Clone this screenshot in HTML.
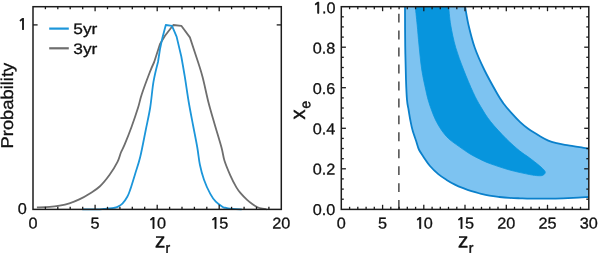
<!DOCTYPE html>
<html><head><meta charset="utf-8"><title>z_r probability and x_e contours</title>
<style>
html,body{margin:0;padding:0;background:#fff;}
body{width:600px;height:253px;overflow:hidden;}
svg{display:block;}
text{font-family:"Liberation Sans", Arial, Helvetica, sans-serif;fill:#111;}
</style></head><body>
<svg xmlns="http://www.w3.org/2000/svg" width="600" height="253" viewBox="0 0 600 253">
<rect x="0" y="0" width="600" height="253" fill="#ffffff"/>
<path fill="none" stroke="#6e6e6e" stroke-width="1.8" stroke-linejoin="round" stroke-linecap="butt" d="M36.90 207.40 C39.03 207.32 45.92 207.20 49.70 206.90 C53.48 206.60 56.32 206.20 59.60 205.60 C62.88 205.00 66.12 204.33 69.40 203.30 C72.68 202.27 75.88 201.05 79.30 199.40 C82.72 197.75 86.50 195.55 89.90 193.40 C93.30 191.25 96.42 189.62 99.70 186.50 C102.98 183.38 106.63 178.82 109.60 174.70 C112.57 170.58 115.62 165.50 117.50 161.80 C119.38 158.10 119.70 155.40 120.90 152.50 C122.10 149.60 122.92 148.70 124.70 144.40 C126.48 140.10 129.37 132.85 131.60 126.70 C133.83 120.55 136.42 112.87 138.10 107.50 C139.78 102.13 139.78 100.28 141.70 94.50 C143.62 88.72 147.52 78.22 149.60 72.80 C151.68 67.38 154.20 62.00 154.20 62.00 C154.20 62.00 160.00 44.00 160.00 44.00 C160.00 44.00 165.00 35.80 165.00 35.80 C165.00 35.80 173.30 25.00 173.30 25.00 C173.30 25.00 181.30 25.80 181.30 25.80 C181.30 25.80 189.90 37.40 189.90 37.40 C189.90 37.40 196.20 56.50 196.20 56.50 C196.20 56.50 200.45 69.03 202.50 76.70 C204.55 84.37 206.50 94.67 208.50 102.50 C210.50 110.33 212.33 116.20 214.50 123.70 C216.67 131.20 219.83 141.32 221.50 147.50 C223.17 153.68 223.02 156.12 224.50 160.80 C225.98 165.48 228.42 171.17 230.40 175.60 C232.38 180.03 234.67 184.43 236.40 187.40 C238.13 190.37 239.02 191.32 240.80 193.40 C242.58 195.48 245.13 198.08 247.10 199.90 C249.07 201.72 250.87 203.08 252.60 204.30 C254.33 205.52 255.85 206.47 257.50 207.20 C259.15 207.93 261.00 208.35 262.50 208.70 C264.00 209.05 265.83 209.20 266.50 209.30"/>
<path fill="none" stroke="#1c96da" stroke-width="1.8" stroke-linejoin="round" stroke-linecap="butt" d="M82.30 209.30 C84.75 209.30 93.38 209.37 97.00 209.30 C100.62 209.23 101.90 209.03 104.00 208.90 C106.10 208.77 107.93 208.67 109.60 208.50 C111.27 208.33 112.68 208.17 114.00 207.90 C115.32 207.63 116.10 207.60 117.50 206.90 C118.90 206.20 120.77 205.38 122.40 203.70 C124.03 202.02 125.98 199.18 127.30 196.80 C128.62 194.42 128.98 193.25 130.30 189.40 C131.62 185.55 133.55 179.10 135.20 173.70 C136.85 168.30 138.43 164.33 140.20 157.00 C141.97 149.67 144.13 137.95 145.80 129.70 C147.47 121.45 148.92 115.50 150.20 107.50 C151.48 99.50 152.20 89.28 153.50 81.70 C154.80 74.12 158.00 62.00 158.00 62.00 C158.00 62.00 160.00 49.00 160.00 49.00 C160.00 49.00 162.50 37.40 162.50 37.40 C162.50 37.40 165.80 25.00 165.80 25.00 C165.80 25.00 172.00 25.80 172.00 25.80 C172.00 25.80 176.60 36.60 176.60 36.60 C176.60 36.60 181.30 56.50 181.30 56.50 C181.30 56.50 183.55 69.03 184.80 76.70 C186.05 84.37 187.43 94.45 188.80 102.50 C190.17 110.55 191.58 117.50 193.00 125.00 C194.42 132.50 196.15 140.88 197.30 147.50 C198.45 154.12 198.78 159.33 199.90 164.70 C201.02 170.07 202.27 174.83 204.00 179.70 C205.73 184.57 208.33 190.23 210.30 193.90 C212.27 197.57 213.73 199.53 215.80 201.70 C217.87 203.87 221.00 205.87 222.70 206.90 C224.40 207.93 224.80 207.62 226.00 207.90 C227.20 208.18 228.23 208.40 229.90 208.60 C231.57 208.80 234.03 208.98 236.00 209.10 C237.97 209.22 240.75 209.27 241.70 209.30"/>
<path d="M405.00 6.70 C405.00 6.70 405.03 32.78 405.20 45.00 C405.37 57.22 405.70 70.83 406.00 80.00 C406.30 89.17 406.57 95.00 407.00 100.00 C407.43 105.00 408.05 106.67 408.60 110.00 C409.15 113.33 409.65 116.67 410.30 120.00 C410.95 123.33 411.50 126.42 412.50 130.00 C413.50 133.58 415.23 138.25 416.30 141.50 C417.37 144.75 417.72 146.97 418.90 149.50 C420.08 152.03 421.55 153.95 423.40 156.70 C425.25 159.45 427.52 163.10 430.00 166.00 C432.48 168.90 435.53 171.78 438.30 174.10 C441.07 176.42 443.83 178.15 446.60 179.90 C449.37 181.65 452.13 183.22 454.90 184.60 C457.67 185.98 460.43 187.10 463.20 188.20 C465.97 189.30 468.73 190.32 471.50 191.20 C474.27 192.08 476.80 192.75 479.80 193.50 C482.80 194.25 486.23 195.12 489.50 195.70 C492.77 196.28 496.10 196.63 499.40 197.00 C502.70 197.37 505.87 197.68 509.30 197.90 C512.73 198.12 515.25 198.17 520.00 198.30 C524.75 198.43 531.87 198.65 537.80 198.70 C543.73 198.75 549.68 198.73 555.60 198.60 C561.52 198.47 567.78 198.17 573.30 197.90 C578.82 197.63 588.70 197.00 588.70 197.00 C588.70 197.00 588.70 148.60 588.70 148.60 C588.70 148.60 584.08 147.82 581.50 147.40 C578.92 146.98 575.97 146.52 573.20 146.10 C570.43 145.68 567.67 145.38 564.90 144.90 C562.13 144.42 559.37 143.92 556.60 143.20 C553.83 142.48 551.07 141.77 548.30 140.60 C545.53 139.43 541.97 137.30 540.00 136.20 C538.03 135.10 538.47 135.23 536.50 134.00 C534.53 132.77 530.97 130.82 528.20 128.80 C525.43 126.78 522.67 124.50 519.90 121.90 C517.13 119.30 514.37 116.32 511.60 113.20 C508.83 110.08 505.67 106.40 503.30 103.20 C500.93 100.00 500.55 99.53 497.40 94.00 C494.25 88.47 488.18 77.75 484.40 70.00 C480.62 62.25 477.35 55.00 474.70 47.50 C472.05 40.00 470.10 31.80 468.50 25.00 C466.90 18.20 465.10 6.70 465.10 6.70 Z" fill="#7dc3f1" stroke="none"/>
<path d="M405.00 6.70 C405.03 13.08 405.03 32.78 405.20 45.00 C405.37 57.22 405.70 70.83 406.00 80.00 C406.30 89.17 406.57 95.00 407.00 100.00 C407.43 105.00 408.05 106.67 408.60 110.00 C409.15 113.33 409.65 116.67 410.30 120.00 C410.95 123.33 411.50 126.42 412.50 130.00 C413.50 133.58 415.23 138.25 416.30 141.50 C417.37 144.75 417.72 146.97 418.90 149.50 C420.08 152.03 421.55 153.95 423.40 156.70 C425.25 159.45 427.52 163.10 430.00 166.00 C432.48 168.90 435.53 171.78 438.30 174.10 C441.07 176.42 443.83 178.15 446.60 179.90 C449.37 181.65 452.13 183.22 454.90 184.60 C457.67 185.98 460.43 187.10 463.20 188.20 C465.97 189.30 468.73 190.32 471.50 191.20 C474.27 192.08 476.80 192.75 479.80 193.50 C482.80 194.25 486.23 195.12 489.50 195.70 C492.77 196.28 496.10 196.63 499.40 197.00 C502.70 197.37 505.87 197.68 509.30 197.90 C512.73 198.12 515.25 198.17 520.00 198.30 C524.75 198.43 531.87 198.65 537.80 198.70 C543.73 198.75 549.68 198.73 555.60 198.60 C561.52 198.47 567.78 198.17 573.30 197.90 C578.82 197.63 586.13 197.15 588.70 197.00" fill="none" stroke="#0a80cb" stroke-width="1.8" stroke-linecap="butt"/>
<path d="M588.70 148.60 C587.50 148.40 584.08 147.82 581.50 147.40 C578.92 146.98 575.97 146.52 573.20 146.10 C570.43 145.68 567.67 145.38 564.90 144.90 C562.13 144.42 559.37 143.92 556.60 143.20 C553.83 142.48 551.07 141.77 548.30 140.60 C545.53 139.43 541.97 137.30 540.00 136.20 C538.03 135.10 538.47 135.23 536.50 134.00 C534.53 132.77 530.97 130.82 528.20 128.80 C525.43 126.78 522.67 124.50 519.90 121.90 C517.13 119.30 514.37 116.32 511.60 113.20 C508.83 110.08 505.67 106.40 503.30 103.20 C500.93 100.00 500.55 99.53 497.40 94.00 C494.25 88.47 488.18 77.75 484.40 70.00 C480.62 62.25 477.35 55.00 474.70 47.50 C472.05 40.00 470.10 31.80 468.50 25.00 C466.90 18.20 465.67 9.75 465.10 6.70" fill="none" stroke="#0a80cb" stroke-width="1.8" stroke-linecap="butt"/>
<path d="M415.30 6.70 C415.30 6.70 416.58 18.62 417.20 25.00 C417.82 31.38 418.23 37.50 419.00 45.00 C419.77 52.50 420.67 62.50 421.80 70.00 C422.93 77.50 424.73 85.00 425.80 90.00 C426.87 95.00 427.25 96.67 428.20 100.00 C429.15 103.33 430.27 106.67 431.50 110.00 C432.73 113.33 433.95 116.67 435.60 120.00 C437.25 123.33 439.20 126.87 441.40 130.00 C443.60 133.13 445.78 136.00 448.80 138.80 C451.82 141.60 456.03 144.32 459.50 146.80 C462.97 149.28 466.28 151.68 469.60 153.70 C472.92 155.72 476.00 157.25 479.40 158.90 C482.80 160.55 484.95 161.75 490.00 163.60 C495.05 165.45 503.13 168.18 509.70 170.00 C516.27 171.82 524.68 173.55 529.40 174.50 C534.12 175.45 535.82 175.55 538.00 175.70 C540.18 175.85 541.33 175.80 542.50 175.40 C543.67 175.00 544.65 174.08 545.00 173.30 C545.35 172.52 545.55 171.98 544.60 170.70 C543.65 169.42 541.83 167.75 539.30 165.60 C536.77 163.45 532.68 160.27 529.40 157.80 C526.12 155.33 523.50 154.02 519.60 150.80 C515.70 147.58 510.83 143.37 506.00 138.50 C501.17 133.63 494.80 126.88 490.60 121.60 C486.40 116.32 483.70 111.65 480.80 106.80 C477.90 101.95 476.05 98.63 473.20 92.50 C470.35 86.37 466.62 77.50 463.70 70.00 C460.78 62.50 457.87 55.00 455.70 47.50 C453.53 40.00 451.87 31.80 450.70 25.00 C449.53 18.20 448.70 6.70 448.70 6.70 Z" fill="#0795dd" stroke="#0795dd" stroke-width="0.8" stroke-linejoin="round"/>
<line x1="398.9" y1="13.7" x2="398.9" y2="22.6" stroke="#1c1c1c" stroke-width="1.2"/>
<line x1="398.9" y1="30.6" x2="398.9" y2="39.5" stroke="#1c1c1c" stroke-width="1.2"/>
<line x1="398.9" y1="47.6" x2="398.9" y2="56.5" stroke="#1c1c1c" stroke-width="1.2"/>
<line x1="398.9" y1="64.5" x2="398.9" y2="73.5" stroke="#1c1c1c" stroke-width="1.2"/>
<line x1="398.9" y1="81.5" x2="398.9" y2="90.4" stroke="#1c1c1c" stroke-width="1.2"/>
<line x1="398.9" y1="98.5" x2="398.9" y2="107.4" stroke="#1c1c1c" stroke-width="1.2"/>
<line x1="398.9" y1="115.4" x2="398.9" y2="124.3" stroke="#1c1c1c" stroke-width="1.2"/>
<line x1="398.9" y1="132.3" x2="398.9" y2="141.2" stroke="#1c1c1c" stroke-width="1.2"/>
<line x1="398.9" y1="149.3" x2="398.9" y2="158.2" stroke="#1c1c1c" stroke-width="1.2"/>
<line x1="398.9" y1="166.2" x2="398.9" y2="175.1" stroke="#1c1c1c" stroke-width="1.2"/>
<line x1="398.9" y1="183.2" x2="398.9" y2="192.1" stroke="#1c1c1c" stroke-width="1.2"/>
<line x1="398.9" y1="200.1" x2="398.9" y2="209.0" stroke="#1c1c1c" stroke-width="1.2"/>
<line x1="45.4" y1="209.3" x2="45.4" y2="206.8" stroke="#1c1c1c" stroke-width="1.3"/>
<line x1="45.4" y1="6.7" x2="45.4" y2="9.2" stroke="#1c1c1c" stroke-width="1.3"/>
<line x1="57.8" y1="209.3" x2="57.8" y2="206.8" stroke="#1c1c1c" stroke-width="1.3"/>
<line x1="57.8" y1="6.7" x2="57.8" y2="9.2" stroke="#1c1c1c" stroke-width="1.3"/>
<line x1="70.2" y1="209.3" x2="70.2" y2="206.8" stroke="#1c1c1c" stroke-width="1.3"/>
<line x1="70.2" y1="6.7" x2="70.2" y2="9.2" stroke="#1c1c1c" stroke-width="1.3"/>
<line x1="82.7" y1="209.3" x2="82.7" y2="206.8" stroke="#1c1c1c" stroke-width="1.3"/>
<line x1="82.7" y1="6.7" x2="82.7" y2="9.2" stroke="#1c1c1c" stroke-width="1.3"/>
<line x1="95.1" y1="209.3" x2="95.1" y2="204.8" stroke="#1c1c1c" stroke-width="1.3"/>
<line x1="95.1" y1="6.7" x2="95.1" y2="11.2" stroke="#1c1c1c" stroke-width="1.3"/>
<line x1="107.5" y1="209.3" x2="107.5" y2="206.8" stroke="#1c1c1c" stroke-width="1.3"/>
<line x1="107.5" y1="6.7" x2="107.5" y2="9.2" stroke="#1c1c1c" stroke-width="1.3"/>
<line x1="119.9" y1="209.3" x2="119.9" y2="206.8" stroke="#1c1c1c" stroke-width="1.3"/>
<line x1="119.9" y1="6.7" x2="119.9" y2="9.2" stroke="#1c1c1c" stroke-width="1.3"/>
<line x1="132.3" y1="209.3" x2="132.3" y2="206.8" stroke="#1c1c1c" stroke-width="1.3"/>
<line x1="132.3" y1="6.7" x2="132.3" y2="9.2" stroke="#1c1c1c" stroke-width="1.3"/>
<line x1="144.7" y1="209.3" x2="144.7" y2="206.8" stroke="#1c1c1c" stroke-width="1.3"/>
<line x1="144.7" y1="6.7" x2="144.7" y2="9.2" stroke="#1c1c1c" stroke-width="1.3"/>
<line x1="157.2" y1="209.3" x2="157.2" y2="204.8" stroke="#1c1c1c" stroke-width="1.3"/>
<line x1="157.2" y1="6.7" x2="157.2" y2="11.2" stroke="#1c1c1c" stroke-width="1.3"/>
<line x1="169.6" y1="209.3" x2="169.6" y2="206.8" stroke="#1c1c1c" stroke-width="1.3"/>
<line x1="169.6" y1="6.7" x2="169.6" y2="9.2" stroke="#1c1c1c" stroke-width="1.3"/>
<line x1="182.0" y1="209.3" x2="182.0" y2="206.8" stroke="#1c1c1c" stroke-width="1.3"/>
<line x1="182.0" y1="6.7" x2="182.0" y2="9.2" stroke="#1c1c1c" stroke-width="1.3"/>
<line x1="194.4" y1="209.3" x2="194.4" y2="206.8" stroke="#1c1c1c" stroke-width="1.3"/>
<line x1="194.4" y1="6.7" x2="194.4" y2="9.2" stroke="#1c1c1c" stroke-width="1.3"/>
<line x1="206.8" y1="209.3" x2="206.8" y2="206.8" stroke="#1c1c1c" stroke-width="1.3"/>
<line x1="206.8" y1="6.7" x2="206.8" y2="9.2" stroke="#1c1c1c" stroke-width="1.3"/>
<line x1="219.2" y1="209.3" x2="219.2" y2="204.8" stroke="#1c1c1c" stroke-width="1.3"/>
<line x1="219.2" y1="6.7" x2="219.2" y2="11.2" stroke="#1c1c1c" stroke-width="1.3"/>
<line x1="231.6" y1="209.3" x2="231.6" y2="206.8" stroke="#1c1c1c" stroke-width="1.3"/>
<line x1="231.6" y1="6.7" x2="231.6" y2="9.2" stroke="#1c1c1c" stroke-width="1.3"/>
<line x1="244.1" y1="209.3" x2="244.1" y2="206.8" stroke="#1c1c1c" stroke-width="1.3"/>
<line x1="244.1" y1="6.7" x2="244.1" y2="9.2" stroke="#1c1c1c" stroke-width="1.3"/>
<line x1="256.5" y1="209.3" x2="256.5" y2="206.8" stroke="#1c1c1c" stroke-width="1.3"/>
<line x1="256.5" y1="6.7" x2="256.5" y2="9.2" stroke="#1c1c1c" stroke-width="1.3"/>
<line x1="268.9" y1="209.3" x2="268.9" y2="206.8" stroke="#1c1c1c" stroke-width="1.3"/>
<line x1="268.9" y1="6.7" x2="268.9" y2="9.2" stroke="#1c1c1c" stroke-width="1.3"/>
<line x1="33.0" y1="24.9" x2="37.6" y2="24.9" stroke="#1c1c1c" stroke-width="1.3"/>
<line x1="281.3" y1="24.9" x2="276.7" y2="24.9" stroke="#1c1c1c" stroke-width="1.3"/>
<line x1="349.6" y1="209.3" x2="349.6" y2="206.8" stroke="#1c1c1c" stroke-width="1.3"/>
<line x1="349.6" y1="6.7" x2="349.6" y2="9.2" stroke="#1c1c1c" stroke-width="1.3"/>
<line x1="357.8" y1="209.3" x2="357.8" y2="206.8" stroke="#1c1c1c" stroke-width="1.3"/>
<line x1="357.8" y1="6.7" x2="357.8" y2="9.2" stroke="#1c1c1c" stroke-width="1.3"/>
<line x1="366.1" y1="209.3" x2="366.1" y2="206.8" stroke="#1c1c1c" stroke-width="1.3"/>
<line x1="366.1" y1="6.7" x2="366.1" y2="9.2" stroke="#1c1c1c" stroke-width="1.3"/>
<line x1="374.3" y1="209.3" x2="374.3" y2="206.8" stroke="#1c1c1c" stroke-width="1.3"/>
<line x1="374.3" y1="6.7" x2="374.3" y2="9.2" stroke="#1c1c1c" stroke-width="1.3"/>
<line x1="382.6" y1="209.3" x2="382.6" y2="204.8" stroke="#1c1c1c" stroke-width="1.3"/>
<line x1="382.6" y1="6.7" x2="382.6" y2="11.2" stroke="#1c1c1c" stroke-width="1.3"/>
<line x1="390.8" y1="209.3" x2="390.8" y2="206.8" stroke="#1c1c1c" stroke-width="1.3"/>
<line x1="390.8" y1="6.7" x2="390.8" y2="9.2" stroke="#1c1c1c" stroke-width="1.3"/>
<line x1="399.1" y1="209.3" x2="399.1" y2="206.8" stroke="#1c1c1c" stroke-width="1.3"/>
<line x1="399.1" y1="6.7" x2="399.1" y2="9.2" stroke="#1c1c1c" stroke-width="1.3"/>
<line x1="407.3" y1="209.3" x2="407.3" y2="206.8" stroke="#1c1c1c" stroke-width="1.3"/>
<line x1="407.3" y1="6.7" x2="407.3" y2="9.2" stroke="#1c1c1c" stroke-width="1.3"/>
<line x1="415.6" y1="209.3" x2="415.6" y2="206.8" stroke="#1c1c1c" stroke-width="1.3"/>
<line x1="415.6" y1="6.7" x2="415.6" y2="9.2" stroke="#1c1c1c" stroke-width="1.3"/>
<line x1="423.8" y1="209.3" x2="423.8" y2="204.8" stroke="#1c1c1c" stroke-width="1.3"/>
<line x1="423.8" y1="6.7" x2="423.8" y2="11.2" stroke="#1c1c1c" stroke-width="1.3"/>
<line x1="432.1" y1="209.3" x2="432.1" y2="206.8" stroke="#1c1c1c" stroke-width="1.3"/>
<line x1="432.1" y1="6.7" x2="432.1" y2="9.2" stroke="#1c1c1c" stroke-width="1.3"/>
<line x1="440.3" y1="209.3" x2="440.3" y2="206.8" stroke="#1c1c1c" stroke-width="1.3"/>
<line x1="440.3" y1="6.7" x2="440.3" y2="9.2" stroke="#1c1c1c" stroke-width="1.3"/>
<line x1="448.5" y1="209.3" x2="448.5" y2="206.8" stroke="#1c1c1c" stroke-width="1.3"/>
<line x1="448.5" y1="6.7" x2="448.5" y2="9.2" stroke="#1c1c1c" stroke-width="1.3"/>
<line x1="456.8" y1="209.3" x2="456.8" y2="206.8" stroke="#1c1c1c" stroke-width="1.3"/>
<line x1="456.8" y1="6.7" x2="456.8" y2="9.2" stroke="#1c1c1c" stroke-width="1.3"/>
<line x1="465.0" y1="209.3" x2="465.0" y2="204.8" stroke="#1c1c1c" stroke-width="1.3"/>
<line x1="465.0" y1="6.7" x2="465.0" y2="11.2" stroke="#1c1c1c" stroke-width="1.3"/>
<line x1="473.3" y1="209.3" x2="473.3" y2="206.8" stroke="#1c1c1c" stroke-width="1.3"/>
<line x1="473.3" y1="6.7" x2="473.3" y2="9.2" stroke="#1c1c1c" stroke-width="1.3"/>
<line x1="481.5" y1="209.3" x2="481.5" y2="206.8" stroke="#1c1c1c" stroke-width="1.3"/>
<line x1="481.5" y1="6.7" x2="481.5" y2="9.2" stroke="#1c1c1c" stroke-width="1.3"/>
<line x1="489.8" y1="209.3" x2="489.8" y2="206.8" stroke="#1c1c1c" stroke-width="1.3"/>
<line x1="489.8" y1="6.7" x2="489.8" y2="9.2" stroke="#1c1c1c" stroke-width="1.3"/>
<line x1="498.0" y1="209.3" x2="498.0" y2="206.8" stroke="#1c1c1c" stroke-width="1.3"/>
<line x1="498.0" y1="6.7" x2="498.0" y2="9.2" stroke="#1c1c1c" stroke-width="1.3"/>
<line x1="506.3" y1="209.3" x2="506.3" y2="204.8" stroke="#1c1c1c" stroke-width="1.3"/>
<line x1="506.3" y1="6.7" x2="506.3" y2="11.2" stroke="#1c1c1c" stroke-width="1.3"/>
<line x1="514.5" y1="209.3" x2="514.5" y2="206.8" stroke="#1c1c1c" stroke-width="1.3"/>
<line x1="514.5" y1="6.7" x2="514.5" y2="9.2" stroke="#1c1c1c" stroke-width="1.3"/>
<line x1="522.8" y1="209.3" x2="522.8" y2="206.8" stroke="#1c1c1c" stroke-width="1.3"/>
<line x1="522.8" y1="6.7" x2="522.8" y2="9.2" stroke="#1c1c1c" stroke-width="1.3"/>
<line x1="531.0" y1="209.3" x2="531.0" y2="206.8" stroke="#1c1c1c" stroke-width="1.3"/>
<line x1="531.0" y1="6.7" x2="531.0" y2="9.2" stroke="#1c1c1c" stroke-width="1.3"/>
<line x1="539.3" y1="209.3" x2="539.3" y2="206.8" stroke="#1c1c1c" stroke-width="1.3"/>
<line x1="539.3" y1="6.7" x2="539.3" y2="9.2" stroke="#1c1c1c" stroke-width="1.3"/>
<line x1="547.5" y1="209.3" x2="547.5" y2="204.8" stroke="#1c1c1c" stroke-width="1.3"/>
<line x1="547.5" y1="6.7" x2="547.5" y2="11.2" stroke="#1c1c1c" stroke-width="1.3"/>
<line x1="555.8" y1="209.3" x2="555.8" y2="206.8" stroke="#1c1c1c" stroke-width="1.3"/>
<line x1="555.8" y1="6.7" x2="555.8" y2="9.2" stroke="#1c1c1c" stroke-width="1.3"/>
<line x1="564.0" y1="209.3" x2="564.0" y2="206.8" stroke="#1c1c1c" stroke-width="1.3"/>
<line x1="564.0" y1="6.7" x2="564.0" y2="9.2" stroke="#1c1c1c" stroke-width="1.3"/>
<line x1="572.3" y1="209.3" x2="572.3" y2="206.8" stroke="#1c1c1c" stroke-width="1.3"/>
<line x1="572.3" y1="6.7" x2="572.3" y2="9.2" stroke="#1c1c1c" stroke-width="1.3"/>
<line x1="580.5" y1="209.3" x2="580.5" y2="206.8" stroke="#1c1c1c" stroke-width="1.3"/>
<line x1="580.5" y1="6.7" x2="580.5" y2="9.2" stroke="#1c1c1c" stroke-width="1.3"/>
<line x1="341.3" y1="199.2" x2="343.8" y2="199.2" stroke="#1c1c1c" stroke-width="1.3"/>
<line x1="588.8" y1="199.2" x2="586.3" y2="199.2" stroke="#1c1c1c" stroke-width="1.3"/>
<line x1="341.3" y1="189.1" x2="343.8" y2="189.1" stroke="#1c1c1c" stroke-width="1.3"/>
<line x1="588.8" y1="189.1" x2="586.3" y2="189.1" stroke="#1c1c1c" stroke-width="1.3"/>
<line x1="341.3" y1="178.9" x2="343.8" y2="178.9" stroke="#1c1c1c" stroke-width="1.3"/>
<line x1="588.8" y1="178.9" x2="586.3" y2="178.9" stroke="#1c1c1c" stroke-width="1.3"/>
<line x1="341.3" y1="168.8" x2="345.9" y2="168.8" stroke="#1c1c1c" stroke-width="1.3"/>
<line x1="588.8" y1="168.8" x2="584.2" y2="168.8" stroke="#1c1c1c" stroke-width="1.3"/>
<line x1="341.3" y1="158.7" x2="343.8" y2="158.7" stroke="#1c1c1c" stroke-width="1.3"/>
<line x1="588.8" y1="158.7" x2="586.3" y2="158.7" stroke="#1c1c1c" stroke-width="1.3"/>
<line x1="341.3" y1="148.5" x2="343.8" y2="148.5" stroke="#1c1c1c" stroke-width="1.3"/>
<line x1="588.8" y1="148.5" x2="586.3" y2="148.5" stroke="#1c1c1c" stroke-width="1.3"/>
<line x1="341.3" y1="138.4" x2="343.8" y2="138.4" stroke="#1c1c1c" stroke-width="1.3"/>
<line x1="588.8" y1="138.4" x2="586.3" y2="138.4" stroke="#1c1c1c" stroke-width="1.3"/>
<line x1="341.3" y1="128.3" x2="345.9" y2="128.3" stroke="#1c1c1c" stroke-width="1.3"/>
<line x1="588.8" y1="128.3" x2="584.2" y2="128.3" stroke="#1c1c1c" stroke-width="1.3"/>
<line x1="341.3" y1="118.1" x2="343.8" y2="118.1" stroke="#1c1c1c" stroke-width="1.3"/>
<line x1="588.8" y1="118.1" x2="586.3" y2="118.1" stroke="#1c1c1c" stroke-width="1.3"/>
<line x1="341.3" y1="108.0" x2="343.8" y2="108.0" stroke="#1c1c1c" stroke-width="1.3"/>
<line x1="588.8" y1="108.0" x2="586.3" y2="108.0" stroke="#1c1c1c" stroke-width="1.3"/>
<line x1="341.3" y1="97.9" x2="343.8" y2="97.9" stroke="#1c1c1c" stroke-width="1.3"/>
<line x1="588.8" y1="97.9" x2="586.3" y2="97.9" stroke="#1c1c1c" stroke-width="1.3"/>
<line x1="341.3" y1="87.7" x2="345.9" y2="87.7" stroke="#1c1c1c" stroke-width="1.3"/>
<line x1="588.8" y1="87.7" x2="584.2" y2="87.7" stroke="#1c1c1c" stroke-width="1.3"/>
<line x1="341.3" y1="77.6" x2="343.8" y2="77.6" stroke="#1c1c1c" stroke-width="1.3"/>
<line x1="588.8" y1="77.6" x2="586.3" y2="77.6" stroke="#1c1c1c" stroke-width="1.3"/>
<line x1="341.3" y1="67.5" x2="343.8" y2="67.5" stroke="#1c1c1c" stroke-width="1.3"/>
<line x1="588.8" y1="67.5" x2="586.3" y2="67.5" stroke="#1c1c1c" stroke-width="1.3"/>
<line x1="341.3" y1="57.3" x2="343.8" y2="57.3" stroke="#1c1c1c" stroke-width="1.3"/>
<line x1="588.8" y1="57.3" x2="586.3" y2="57.3" stroke="#1c1c1c" stroke-width="1.3"/>
<line x1="341.3" y1="47.2" x2="345.9" y2="47.2" stroke="#1c1c1c" stroke-width="1.3"/>
<line x1="588.8" y1="47.2" x2="584.2" y2="47.2" stroke="#1c1c1c" stroke-width="1.3"/>
<line x1="341.3" y1="37.1" x2="343.8" y2="37.1" stroke="#1c1c1c" stroke-width="1.3"/>
<line x1="588.8" y1="37.1" x2="586.3" y2="37.1" stroke="#1c1c1c" stroke-width="1.3"/>
<line x1="341.3" y1="26.9" x2="343.8" y2="26.9" stroke="#1c1c1c" stroke-width="1.3"/>
<line x1="588.8" y1="26.9" x2="586.3" y2="26.9" stroke="#1c1c1c" stroke-width="1.3"/>
<line x1="341.3" y1="16.8" x2="343.8" y2="16.8" stroke="#1c1c1c" stroke-width="1.3"/>
<line x1="588.8" y1="16.8" x2="586.3" y2="16.8" stroke="#1c1c1c" stroke-width="1.3"/>
<rect x="33.0" y="6.7" width="248.3" height="202.7" fill="none" stroke="#1c1c1c" stroke-width="1.5"/>
<rect x="341.3" y="6.7" width="247.5" height="202.7" fill="none" stroke="#1c1c1c" stroke-width="1.5"/>
<line x1="49.2" y1="28.6" x2="68.8" y2="28.6" stroke="#1c96da" stroke-width="2.2"/>
<line x1="49.2" y1="48.3" x2="68.8" y2="48.3" stroke="#6e6e6e" stroke-width="2.2"/>
<text transform="translate(73.30,34.00) rotate(0.03) scale(0.8664,0.7600)" font-size="20" text-anchor="start" stroke="#111" stroke-width="0.395" stroke-linejoin="round">5yr</text>
<text transform="translate(73.30,54.10) rotate(0.03) scale(0.8664,0.7600)" font-size="20" text-anchor="start" stroke="#111" stroke-width="0.395" stroke-linejoin="round">3yr</text>
<text transform="translate(33.00,228.45) rotate(0.03) scale(0.8112,0.7800)" font-size="20" text-anchor="middle" stroke="#111" stroke-width="0.385" stroke-linejoin="round">0</text>
<text transform="translate(95.08,228.45) rotate(0.03) scale(0.8112,0.7800)" font-size="20" text-anchor="middle" stroke="#111" stroke-width="0.385" stroke-linejoin="round">5</text>
<text transform="translate(157.15,228.45) rotate(0.03) scale(0.8112,0.7800)" font-size="20" text-anchor="middle" stroke="#111" stroke-width="0.385" stroke-linejoin="round"><tspan font-family="NanumGothic, 'Liberation Sans', sans-serif" font-size="19.4" stroke-width="1.0">1</tspan><tspan dx="-0.9">0</tspan></text>
<text transform="translate(219.23,228.45) rotate(0.03) scale(0.8112,0.7800)" font-size="20" text-anchor="middle" stroke="#111" stroke-width="0.385" stroke-linejoin="round"><tspan font-family="NanumGothic, 'Liberation Sans', sans-serif" font-size="19.4" stroke-width="1.0">1</tspan><tspan dx="-0.9">5</tspan></text>
<text transform="translate(281.30,228.45) rotate(0.03) scale(0.8112,0.7800)" font-size="20" text-anchor="middle" stroke="#111" stroke-width="0.385" stroke-linejoin="round">20</text>
<text transform="translate(26.80,214.00) rotate(0.03) scale(0.8112,0.7800)" font-size="20" text-anchor="end" stroke="#111" stroke-width="0.385" stroke-linejoin="round">0</text>
<text transform="translate(27.30,29.50) rotate(0.03) scale(0.8112,0.7800)" font-size="20" text-anchor="end" stroke="#111" stroke-width="0.385" stroke-linejoin="round"><tspan font-family="NanumGothic, 'Liberation Sans', sans-serif" font-size="19.4" stroke-width="1.0">1</tspan></text>
<text transform="translate(341.30,228.45) rotate(0.03) scale(0.8112,0.7800)" font-size="20" text-anchor="middle" stroke="#111" stroke-width="0.385" stroke-linejoin="round">0</text>
<text transform="translate(382.55,228.45) rotate(0.03) scale(0.8112,0.7800)" font-size="20" text-anchor="middle" stroke="#111" stroke-width="0.385" stroke-linejoin="round">5</text>
<text transform="translate(423.80,228.45) rotate(0.03) scale(0.8112,0.7800)" font-size="20" text-anchor="middle" stroke="#111" stroke-width="0.385" stroke-linejoin="round"><tspan font-family="NanumGothic, 'Liberation Sans', sans-serif" font-size="19.4" stroke-width="1.0">1</tspan><tspan dx="-0.9">0</tspan></text>
<text transform="translate(465.05,228.45) rotate(0.03) scale(0.8112,0.7800)" font-size="20" text-anchor="middle" stroke="#111" stroke-width="0.385" stroke-linejoin="round"><tspan font-family="NanumGothic, 'Liberation Sans', sans-serif" font-size="19.4" stroke-width="1.0">1</tspan><tspan dx="-0.9">5</tspan></text>
<text transform="translate(506.30,228.45) rotate(0.03) scale(0.8112,0.7800)" font-size="20" text-anchor="middle" stroke="#111" stroke-width="0.385" stroke-linejoin="round">20</text>
<text transform="translate(547.55,228.45) rotate(0.03) scale(0.8112,0.7800)" font-size="20" text-anchor="middle" stroke="#111" stroke-width="0.385" stroke-linejoin="round">25</text>
<text transform="translate(588.80,228.45) rotate(0.03) scale(0.8112,0.7800)" font-size="20" text-anchor="middle" stroke="#111" stroke-width="0.385" stroke-linejoin="round">30</text>
<text transform="translate(335.40,214.90) rotate(0.03) scale(0.8112,0.7800)" font-size="20" text-anchor="end" stroke="#111" stroke-width="0.385" stroke-linejoin="round">0.0</text>
<text transform="translate(335.40,174.57) rotate(0.03) scale(0.8112,0.7800)" font-size="20" text-anchor="end" stroke="#111" stroke-width="0.385" stroke-linejoin="round">0.2</text>
<text transform="translate(335.40,134.24) rotate(0.03) scale(0.8112,0.7800)" font-size="20" text-anchor="end" stroke="#111" stroke-width="0.385" stroke-linejoin="round">0.4</text>
<text transform="translate(335.40,93.91) rotate(0.03) scale(0.8112,0.7800)" font-size="20" text-anchor="end" stroke="#111" stroke-width="0.385" stroke-linejoin="round">0.6</text>
<text transform="translate(335.40,53.58) rotate(0.03) scale(0.8112,0.7800)" font-size="20" text-anchor="end" stroke="#111" stroke-width="0.385" stroke-linejoin="round">0.8</text>
<text transform="translate(335.40,13.25) rotate(0.03) scale(0.8112,0.7800)" font-size="20" text-anchor="end" stroke="#111" stroke-width="0.385" stroke-linejoin="round"><tspan font-family="NanumGothic, 'Liberation Sans', sans-serif" font-size="19.4" stroke-width="1.0">1</tspan><tspan dx="-0.9">.0</tspan></text>
<text transform="translate(154.90,247.40) rotate(0.03) scale(1.0290,1.0500)" font-size="20" text-anchor="start" stroke="#111" stroke-width="0.429" stroke-linejoin="round">z<tspan font-size="13.6" dy="5.2" dx="0.4">r</tspan></text>
<text transform="translate(458.00,247.40) rotate(0.03) scale(1.0290,1.0500)" font-size="20" text-anchor="start" stroke="#111" stroke-width="0.429" stroke-linejoin="round">z<tspan font-size="13.6" dy="5.2" dx="0.4">r</tspan></text>
<text transform="translate(13.00,148.40) rotate(-89.97) scale(0.9166,0.8550)" font-size="20" text-anchor="start" stroke="#111" stroke-width="0.351" stroke-linejoin="round">Probability</text>
<text transform="translate(304.90,119.60) rotate(-89.97) scale(1.0080,1.0500)" font-size="20" text-anchor="start" stroke="#111" stroke-width="0.429" stroke-linejoin="round">x<tspan font-size="13.6" dy="5.2" dx="1.1">e</tspan></text>
</svg></body></html>
